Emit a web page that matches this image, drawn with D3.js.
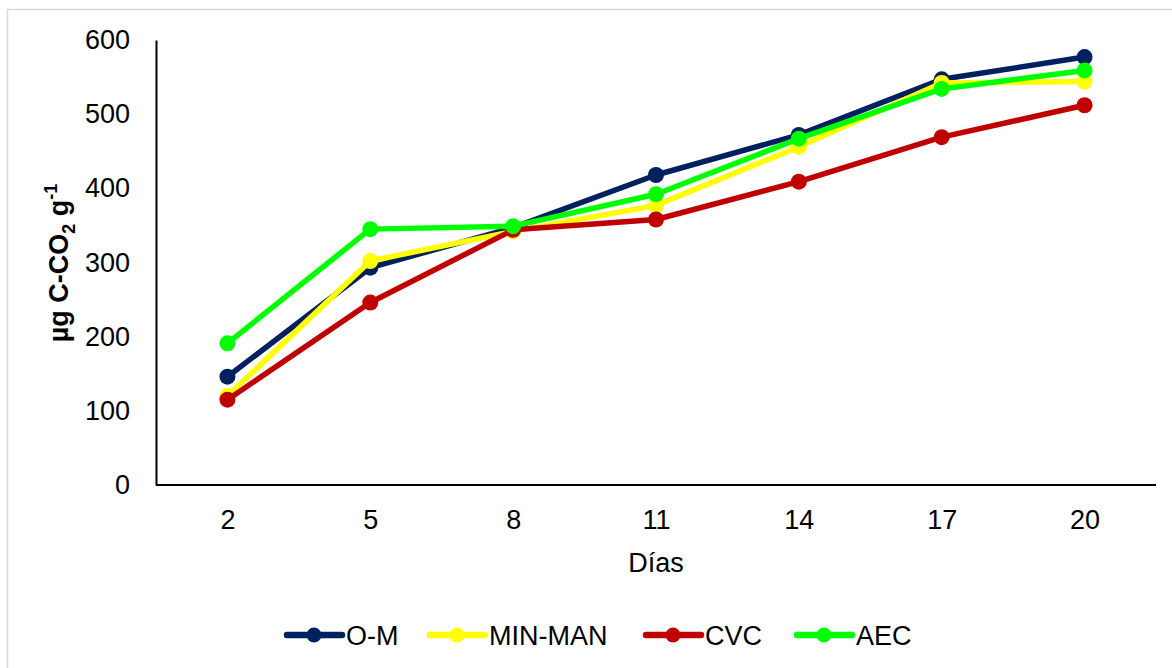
<!DOCTYPE html>
<html>
<head>
<meta charset="utf-8">
<script src="https://cdn.jsdelivr.net/npm/d3@7"></script>
<style>
  html, body { margin: 0; padding: 0; background: #fff; }
  svg { display: block; font-family: "Liberation Sans", Arial, sans-serif; }
</style>
</head>
<body>
<svg id="chart" width="1172" height="668"></svg>
<script>
// Accumulated CO2 release per sampling day
const days = ["2", "5", "8", "11", "14", "17", "20"];
const omValues     = [146, 293, 347, 418, 472, 547, 577];
const minManValues = [120, 302, 342, 377, 456, 542, 544];
const cvcValues    = [115, 246, 344, 358, 409, 469, 512];
const aecValues    = [191, 345, 349, 392, 467, 534, 559];
const yTicks = [0, 100, 200, 300, 400, 500, 600];

const seriesNames  = ["O-M", "MIN-MAN", "CVC", "AEC"];
const seriesColors = ["#002060", "#FFFF00", "#C00000", "#00FF00"];

const series = [
  { name: seriesNames[0], color: seriesColors[0], values: omValues },
  { name: seriesNames[1], color: seriesColors[1], values: minManValues },
  { name: seriesNames[2], color: seriesColors[2], values: cvcValues },
  { name: seriesNames[3], color: seriesColors[3], values: aecValues }
];

const FONT = "Liberation Sans, Arial, sans-serif";
const svg = d3.select("#chart");

// outer chart frame
svg.append("rect")
  .attr("x", 7.5).attr("y", 9.5)
  .attr("width", 1180).attr("height", 680)
  .attr("fill", "#fff")
  .attr("stroke", "#d9d9d9").attr("stroke-width", 1.5);

const plot = { left: 156, right: 1156, top: 40, bottom: 485 };

const x = d3.scalePoint()
  .domain(days)
  .range([plot.left, plot.right])
  .padding(0.5);

const y = d3.scaleLinear()
  .domain([0, 600])
  .range([plot.bottom, plot.top]);

// y axis
const yAxis = svg.append("g")
  .attr("transform", `translate(${plot.left},0)`)
  .call(d3.axisLeft(y).tickValues(yTicks).tickSize(0).tickPadding(26));
yAxis.select(".domain").attr("stroke", "#000").attr("stroke-width", 2);
yAxis.selectAll("text").attr("font-size", 27).attr("fill", "#000")
  .attr("font-family", FONT);

// x axis
const xAxis = svg.append("g")
  .attr("transform", `translate(0,${plot.bottom})`)
  .call(d3.axisBottom(x).tickSize(0).tickPadding(25));
xAxis.select(".domain").attr("stroke", "#000").attr("stroke-width", 2)
  .attr("d", `M${plot.left},0H${plot.right}`);
xAxis.selectAll("text").attr("font-size", 27).attr("fill", "#000")
  .attr("font-family", FONT);

// axis titles
svg.append("text")
  .attr("x", (plot.left + plot.right) / 2)
  .attr("y", 572)
  .attr("text-anchor", "middle")
  .attr("font-size", 27)
  .text("Días");

const yTitle = svg.append("text")
  .attr("transform", `translate(68,263) rotate(-90)`)
  .attr("text-anchor", "middle")
  .attr("font-size", 27)
  .attr("font-weight", "bold");
yTitle.append("tspan").text("µg C-CO");
yTitle.append("tspan").attr("font-size", 18).attr("dy", 7).text("2");
yTitle.append("tspan").attr("dy", -7).text(" g");
yTitle.append("tspan").attr("font-size", 18).attr("dy", -11).text("-1");

// series lines and markers
const line = d3.line()
  .x((d, i) => x(days[i]))
  .y(d => y(d));

const groups = svg.append("g").selectAll("g")
  .data(series)
  .join("g");

groups.append("path")
  .attr("d", d => line(d.values))
  .attr("fill", "none")
  .attr("stroke", d => d.color)
  .attr("stroke-width", 5.5)
  .attr("stroke-linejoin", "round")
  .attr("stroke-linecap", "round");

groups.selectAll("circle")
  .data(d => d.values.map((v, i) => ({ v, i, color: d.color })))
  .join("circle")
  .attr("cx", d => x(days[d.i]))
  .attr("cy", d => y(d.v))
  .attr("r", 8)
  .attr("fill", d => d.color);

// legend
const legendX = [287, 430, 646, 797];
const legend = svg.append("g").selectAll("g")
  .data(series)
  .join("g")
  .attr("transform", (d, i) => `translate(${legendX[i]},635)`);

legend.append("line")
  .attr("x1", 0).attr("x2", 55)
  .attr("stroke", d => d.color)
  .attr("stroke-width", 6.5)
  .attr("stroke-linecap", "round");
legend.append("circle")
  .attr("cx", 27).attr("r", 7.5)
  .attr("fill", d => d.color);
legend.append("text")
  .attr("x", 59).attr("y", 10)
  .attr("font-size", 27)
  .text(d => d.name);
</script>
</body>
</html>
